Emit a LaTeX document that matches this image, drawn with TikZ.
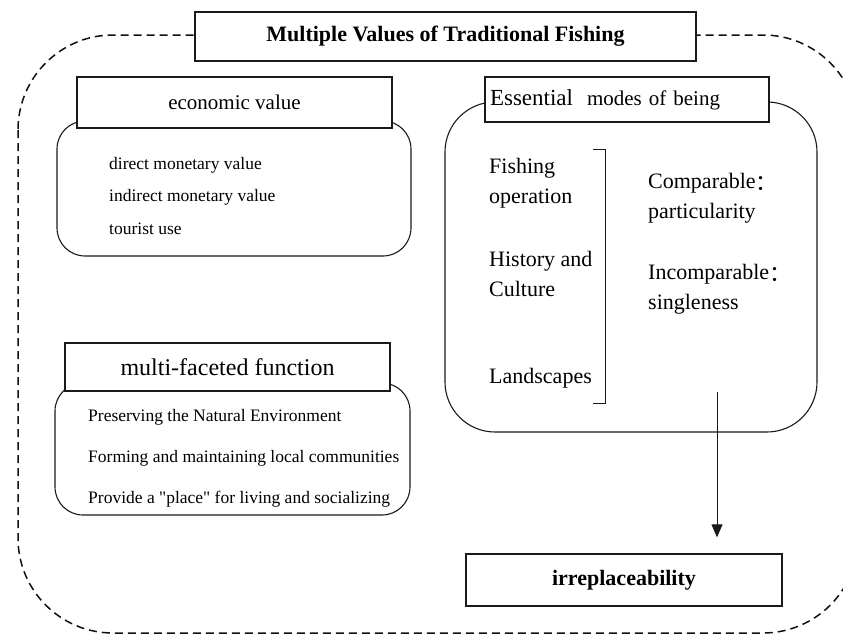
\documentclass[tikz,border=0pt]{standalone}
\usepackage{fontspec}
\setmainfont{Liberation Serif}
\newfontfamily\cjk{Noto Sans CJK SC}
\usetikzlibrary{arrows.meta}
\definecolor{boxedge}{HTML}{1A1A1A}
\definecolor{frameedge}{HTML}{111111}
\newcommand{\wcolon}{\raisebox{-0.12em}{\cjk ：}}

\begin{document}
\begin{tikzpicture}[x=1pt, y=-1pt,
  frame/.style={draw=frameedge, line width=1.5pt, dash pattern=on 8pt off 5pt, rounded corners=95pt},
  hdr/.style={rectangle, draw=boxedge, fill=white, line width=1.3pt, inner sep=0pt,
              align=center, font=\fontsize{21}{24}\selectfont},
  ttl/.style={hdr, font=\bfseries\fontsize{22}{26}\selectfont},
  grp/.style={rectangle, draw=boxedge, line width=1.1pt, inner sep=0pt},
  item/.style={anchor=west, inner sep=0pt, font=\fontsize{17.5}{20}\selectfont},
  mode/.style={anchor=west, inner sep=0pt, align=left, font=\fontsize{22}{30}\selectfont},
  arr/.style={draw=boxedge, line width=1pt, -{Triangle[length=13pt, width=11pt]}},
]
\clip (0,0) rectangle (843,635);
% ---- outer dashed frame ----
\draw[frame] (18,35) rectangle (858,633);
\node[ttl, minimum width=501pt, minimum height=49pt] (title) at (445.5,36.5) {Multiple Values of Traditional Fishing};
% ---- economic value ----
\node[grp, rounded corners=28pt, minimum width=354pt, minimum height=135pt] (econbox) at (234,188.5) {};
\node[hdr, minimum width=315pt, minimum height=51pt] (econhdr) at (234.5,102.5) {economic value};
\node[item] (econa) at (109,165) {direct monetary value};
\node[item] (econb) at (109,197) {indirect monetary value};
\node[item] (econc) at (109,229) {tourist use};
% ---- multi-faceted function ----
\node[grp, rounded corners=28pt, minimum width=355pt, minimum height=132pt] (multibox) at (232.5,449) {};
\node[hdr, minimum width=325pt, minimum height=48pt, font=\fontsize{24}{27}\selectfont] (multihdr) at (227.5,367) {multi-faceted function};
\node[item] (multia) at (88,417) {Preserving the Natural Environment};
\node[item] (multib) at (88,458) {Forming and maintaining local communities};
\node[item] (multic) at (88,499) {Provide a \textquotedbl place\textquotedbl\ for living and socializing};
% ---- essential modes of being ----
\node[grp, rounded corners=50pt, minimum width=372pt, minimum height=330pt] (modebox) at (631,267) {};
\node[hdr, minimum width=284pt, minimum height=45pt, text width=274pt, align=left] (modehdr) at (627,99.5)
  {{\fontsize{23}{26}\selectfont Essential}~ modes of being};
\node[mode] (fishing) at (489,183) {Fishing\\operation};
\node[mode] (history) at (489,274) {History and\\Culture};
\node[mode] (landsc) at (489,378) {Landscapes};
\draw[boxedge, line width=1pt] (593,149) -- (605,149) -- (605,403) -- (593,403);
\node[mode] (compar) at (648,198) {Comparable\wcolon\\particularity};
\node[mode] (incomp) at (648,289) {Incomparable\wcolon\\singleness};
% ---- result ----
\node[ttl, minimum width=316pt, minimum height=52pt] (irrep) at (624,580) {irreplaceability};
\coordinate (arrstart) at (717,392);
\draw[arr, shorten >=16pt] (arrstart) -- (arrstart |- irrep.north);
\end{tikzpicture}
\end{document}
